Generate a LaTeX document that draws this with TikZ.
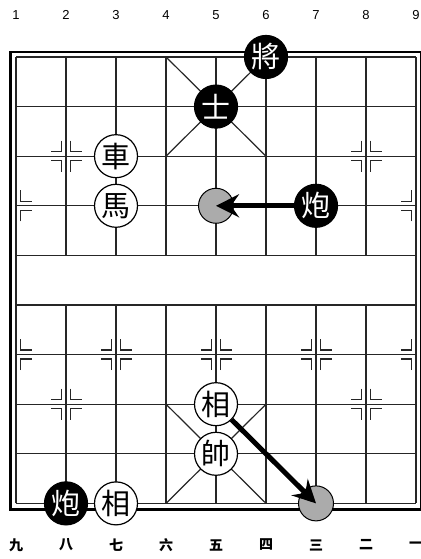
\documentclass[tikz,border=0pt]{standalone}
\usepackage{fontspec}
\setmainfont{Liberation Sans}
\newfontfamily\cjk{Noto Sans CJK TC}
\newfontfamily\cjknum{Noto Sans CJK SC}
\usetikzlibrary{arrows.meta}

% four corner marks round a point; #3 lists the sides that get them
\newcommand\cornermarks[3]{%
  \foreach \sx in {#3} \foreach \sy in {-1,1}
    \draw[grid] ([shift={(\sx*4.5pt,\sy*15.5pt)}]#1,#2) -- ([shift={(\sx*4.5pt,\sy*4.5pt)}]#1,#2)
      -- ([shift={(\sx*15.5pt,\sy*4.5pt)}]#1,#2);}

\begin{document}
\begin{tikzpicture}[x=50pt, y=49.6pt,
  grid/.style={black!85, line width=1.2pt},
  piece/.style={circle, draw, line width=1.2pt, minimum size=43pt, inner sep=0pt,
    font=\cjk\fontsize{29}{29}\selectfont},
  blackpiece/.style={piece, fill=black, text=white},
  whitepiece/.style={piece, fill=white},
  target/.style={circle, draw, fill=black!33, line width=1pt, minimum size=35pt, inner sep=0pt},
  move/.style={line width=5pt, -{Stealth[length=23pt, width=23pt, inset=8pt]}},
  filelabel/.style={font=\fontsize{13}{13}\selectfont},
  cjklabel/.style={font=\cjknum\bfseries\fontsize{14}{14}\selectfont}]

\useasboundingbox (-0.32,-1.121) rectangle (8.08,10.149);

% frame
\draw[line width=2.5pt] ([shift={(-5.5pt,-6pt)}]0,0) rectangle ([shift={(5.5pt,5pt)}]8,9);

% board lines
\foreach \y in {0,...,9} \draw[grid] (0,\y) -- (8,\y);
\draw[grid] (0,0) -- (0,9) (8,0) -- (8,9);
\foreach \x in {1,...,7} \draw[grid] (\x,0) -- (\x,4) (\x,5) -- (\x,9);
\draw[grid] (3,0) -- (5,2) (5,0) -- (3,2) (3,7) -- (5,9) (5,7) -- (3,9);

% marks
\foreach \y in {2,7} \foreach \x in {1,7} \cornermarks{\x}{\y}{-1,1};
\foreach \y in {3,6} {
  \cornermarks{0}{\y}{1}
  \cornermarks{8}{\y}{-1}
  \foreach \x in {2,4,6} \cornermarks{\x}{\y}{-1,1};
}

% file labels
\foreach \n in {1,...,9} \node[filelabel] (top\n) at (\n-1,9.847) {\n};
\foreach \n/\c in {1/九,2/八,3/七,4/六,5/五,6/四,7/三,8/二,9/一}
  \node[cjklabel] (bot\n) at (\n-1,-0.839) {\c};

% pieces
\node[blackpiece] (bking) at (5,9) {將};
\node[blackpiece] (badv) at (4,8) {士};
\node[whitepiece] (wrook) at (2,7) {車};
\node[whitepiece] (whorse) at (2,6) {馬};
\node[target] (goal1) at (4,6) {};
\node[blackpiece] (bcan1) at (6,6) {炮};
\node[whitepiece] (welep1) at (4,2) {相};
\node[whitepiece] (wking) at (4,1) {帥};
\node[target] (goal2) at (6,0) {};
\node[blackpiece] (bcan2) at (1,0) {炮};
\node[whitepiece] (welep2) at (2,0) {相};

% moves
\draw[move] (bcan1) -- (goal1.center);
\draw[move] (welep1) -- (goal2.center);

\end{tikzpicture}
\end{document}
